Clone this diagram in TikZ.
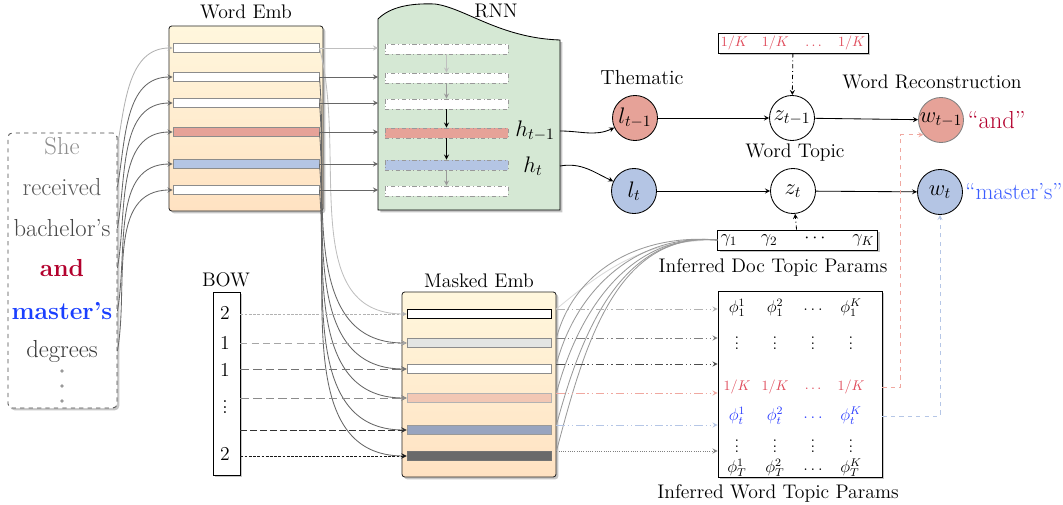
\RequirePackage{fix-cm}
\documentclass[tikz,border=0pt]{standalone}
\usetikzlibrary{positioning,shadows}

\definecolor{embtop}{HTML}{FFF7DD}
\definecolor{embbot}{HTML}{FFE2C2}
\definecolor{rnngreen}{HTML}{D5E8D4}
\definecolor{tred}{HTML}{E6A298}
\definecolor{tblue}{HTML}{B4C5E4}
\definecolor{andred}{HTML}{B3002D}
\definecolor{masterblue}{HTML}{1A3FFF}
\definecolor{quoteblue}{HTML}{3A5CFF}
\definecolor{kred}{HTML}{E04A5A}
\definecolor{phiblue}{HTML}{2B3DFF}
\definecolor{mpeach}{HTML}{F2C7B4}
\definecolor{mslate}{HTML}{98A4BF}
\definecolor{mdark}{HTML}{6A6A6A}
\definecolor{mlight}{HTML}{E3E5E3}
\definecolor{dashred}{HTML}{F0A8A0}
\definecolor{dashblue}{HTML}{B5C6E6}

\tikzset{
  lbl/.style={font=\fontsize{14}{16}\selectfont},
  word/.style={font=\fontsize{17.5}{20}\selectfont},
  shad/.style={drop shadow={shadow xshift=1.6pt, shadow yshift=-1.6pt, opacity=0.45}},
  embbox/.style={draw=black!85, rounded corners=2pt, top color=embtop, bottom color=embbot,
    minimum width=3.85cm, minimum height=4.625cm, shad},
  ebar/.style={draw=black!45, minimum width=3.65cm, minimum height=0.24cm, inner sep=0pt},
  mbar/.style={draw=black!45, minimum width=3.6cm, minimum height=0.23cm, inner sep=0pt},
  rbar/.style={draw=black!40, dash dot, minimum width=3.075cm, minimum height=0.25cm, inner sep=0pt},
  var/.style={circle, draw, minimum size=1.125cm, inner sep=0pt, font=\fontsize{16}{18}\selectfont},
  pbox/.style={draw, fill=white, shad, inner sep=2pt, minimum height=0.5cm},
  ent/.style={font=\fontsize{12}{14}\selectfont, inner sep=0pt},
  conn/.style={->, black!60},
  dashdotdot/.style={dash pattern=on 6pt off 2pt on 1pt off 2pt on 1pt off 2pt},
}

\begin{document}
\begin{tikzpicture}[x=0.025cm, y=-0.025cm, >=stealth, line width=0.6pt]
\useasboundingbox (0,0) rectangle (1063,505);

% sentence
\node[draw=black!70, dashed, rounded corners=3pt, fill=white, shad,
  minimum width=2.725cm, minimum height=6.875cm] (sent) at (62.5,270.5) {};
\node[word, text=black!45] (s1) at (62,146) {She};
\node[word, text=black!65] (s2) at (62,187) {received};
\node[word, text=black!72] (s3) at (62,228) {bachelor’s};
\node[word, text=andred] (s4) at (62,268) {\bfseries and};
\node[word, text=masterblue] (s5) at (62,311) {\bfseries master’s};
\node[word, text=black!78] (s6) at (62,351) {degrees};
\foreach \y in {371,386,401} \fill[black!40] (62,\y) circle (1.3pt);

% word embedding
\node[embbox] (wemb) at (246,118.5) {};
\node[lbl] (wembT) at (246,12) {Word Emb};
\foreach \i/\y/\c in {1/48/white, 2/77/white, 3/103/white, 4/132/tred, 5/164/tblue, 6/190/white}
  \node[ebar, fill=\c] (we\i) at (246,\y) {};

% rnn
\draw[fill=rnngreen, shad] (378,210) -- (378,19) .. controls (390,7) and (410,3) .. (435,4)
  .. controls (465,8) and (500,38) .. (560,40) -- (560,210) -- cycle;
\coordinate (rnnL) at (378,100);
\coordinate (rnnR) at (560,100);
\node[lbl] (rnnT) at (496,11) {RNN};
\foreach \i/\y/\c in {1/49/white, 2/78/white, 3/104/white, 4/133/tred, 5/165/tblue, 6/191/white}
  \node[rbar, fill=\c] (rb\i) at (446.5,\y) {};
\draw[->, black!25] (rb1.south) -- (rb2.north);
\draw[->, black!40] (rb2.south) -- (rb3.north);
\draw[->, black] (rb3.south) -- (rb4.north);
\draw[->, black] (rb4.south) -- (rb5.north);
\draw[->, black!40] (rb5.south) -- (rb6.north);
\node[font=\fontsize{16}{18}\selectfont] (hm1) at (535,131) {$h_{t-1}$};
\node[font=\fontsize{16}{18}\selectfont] (h0) at (533,166) {$h_t$};

% graphical model
\node[var, fill=tred] (lm1) at (635,118) {$l_{t-1}$};
\node[var, fill=tblue] (l0) at (634,191) {$l_t$};
\node[var] (zm1) at (792,118) {$z_{t-1}$};
\node[var] (z0) at (793,191) {$z_t$};
\node[var, fill=tred, draw=black!50] (wm1) at (941,120) {$w_{t-1}$};
\node[var, fill=tblue] (w0) at (940,192) {$w_t$};
\node[lbl, font=\fontsize{14.5}{16}\selectfont] (themT) at (642,78) {Thematic};
\node[lbl] (topT) at (795,153) {Word Topic};
\node[lbl] (recT) at (932,82) {Word Reconstruction};
\node[font=\fontsize{17.5}{20}\selectfont, text=andred, right=0pt of wm1, inner sep=2.5pt] (andT) {“and”};
\node[font=\fontsize{16.5}{20}\selectfont, text=quoteblue, right=0pt of w0, inner sep=1.5pt] (mastT) {“master’s”};

\node[pbox, minimum width=3.75cm, text=kred] (kbox) at (793,43)
  {$1/K\quad 1/K\quad \ldots\quad 1/K$};
\node[pbox, minimum width=3.775cm, font=\fontsize{13}{15}\selectfont] (gbox) at (797.5,240)
  {$\gamma_1\hspace{1.3em}\gamma_2\hspace{1.3em}\cdots\hspace{1.3em}\gamma_K$};
\node[lbl] (gT) at (773,267) {Inferred Doc Topic Params};

% word topic params
\node[pbox, minimum width=4.1cm, minimum height=4.65cm] (phi) at (800,384) {};
\node[lbl] (phiT) at (778,493) {Inferred Word Topic Params};
\foreach \c/\cx/\k in {1/737/1, 2/775/2, 4/851/K} {
  \node[ent] (pa\c) at (\cx,308) {$\phi_1^{\k}$};
  \node[ent] (pb\c) at (\cx,339) {$\vdots$};
  \node[ent, font=\normalsize, text=kred] (pc\c) at (\cx,387) {$1/K$};
  \node[ent, text=phiblue] (pd\c) at (\cx,416) {$\phi_t^{\k}$};
  \node[ent] (pe\c) at (\cx,442) {$\vdots$};
  \node[ent] (pf\c) at (\cx,468) {$\phi_T^{\k}$};
}
\node[ent] (pa3) at (813,310) {$\ldots$};
\node[ent] (pb3) at (813,339) {$\vdots$};
\node[ent, font=\normalsize, text=kred] (pc3) at (813,389) {$\ldots$};
\node[ent, text=phiblue] (pd3) at (813,418) {$\ldots$};
\node[ent] (pe3) at (813,442) {$\vdots$};
\node[ent] (pf3) at (813,470) {$\ldots$};

% bag of words
\node[draw, fill=white, shad, minimum width=0.675cm, minimum height=4.575cm] (bow) at (226.5,383.5) {};
\node[lbl] (bowT) at (226,280) {BOW};
\node[lbl] (b1) at (225,313) {2};
\node[lbl] (b2) at (225,343) {1};
\node[lbl] (b3) at (225,370) {1};
\node[lbl] (b4) at (225,403) {$\vdots$};
\node[lbl] (b6) at (225,454) {2};

% masked embedding
\node[embbox] (memb) at (479,384.5) {};
\node[lbl] (membT) at (479,281) {Masked Emb};
\foreach \i/\y/\c/\d in {1/314/white/black, 2/343/mlight/black!45, 3/369/white/black!45,
    4/398/mpeach/black!30, 5/430/mslate/black!40, 6/456/mdark/black!55}
  \node[mbar, fill=\c, draw=\d] (mb\i) at (479,\y) {};

% sentence to word embedding
\draw[->, black!30] (sent.east |- s1) to[out=80, in=180] (we1.west);
\foreach \i in {2,...,6}
  \draw[conn] (sent.east |- s\i) to[out=80, in=180] (we\i.west);

% word embedding to rnn and masked embedding
\draw[->, black!25] (we1.east) -- (we1.east -| rnnL);
\draw[->, black!25] (we1.east) to[out=-75, in=180] (mb1.west);
\foreach \i in {2,...,6} {
  \draw[conn] (we\i.east) -- (we\i.east -| rnnL);
  \draw[conn] (we\i.east) to[out=-85, in=180] (mb\i.west);
}

% rnn to thematic
\draw[->, black] (rnnR |- hm1) to[out=0, in=205] (lm1);
\draw[->, black] (rnnR |- h0) to[out=10, in=155] (l0);
\draw[->] (lm1) -- (zm1);
\draw[->] (zm1) -- (wm1);
\draw[->] (l0) -- (z0);
\draw[->] (z0) -- (w0);
\draw[->, dash dot] (kbox) -- (zm1);
\draw[->, dash dot] (gbox) -- (z0);

% bow to masked embedding
\draw[->, black!30, dash pattern=on 2pt off 1pt] (bow.east |- mb1) -- (mb1.west);
\draw[->, black!35, dash pattern=on 5pt off 3pt] (bow.east |- mb2) -- (mb2.west);
\draw[->, black!55, dash pattern=on 6pt off 3pt] (bow.east |- mb3) -- (mb3.west);
\draw[->, black!45, dash pattern=on 6pt off 3pt] (bow.east |- mb4) -- (mb4.west);
\draw[->, black!80, dash pattern=on 5pt off 2pt] (bow.east |- mb5) -- (mb5.west);
\draw[->, black!90, dash pattern=on 2pt off 1pt] (bow.east |- mb6) -- (mb6.west);

% masked embedding to params
\draw[black!15] (memb.east |- mb1.north east) to[out=40, in=180] (gbox.west);
\foreach \i in {2,...,6}
  \draw[black!40] (memb.east |- mb\i.north east) to[out=75, in=175] (gbox.west);
\draw[->, black!30, dashdotdot] (memb.east |- mb1.north east) -- (phi.west |- mb1.north east);
\draw[->, black!50, dashdotdot] (memb.east |- mb2.north east) -- (phi.west |- mb2.north east);
\draw[->, black!70, dashdotdot] (memb.east |- mb3.north east) -- (phi.west |- mb3.north east);
\draw[->, dashred, dashdotdot] (memb.east |- mb4.north east) -- (phi.west |- mb4.north east);
\draw[->, dashblue, dashdotdot] (memb.east |- mb5.north east) -- (phi.west |- mb5.north east);
\draw[->, black!50, densely dotted] (memb.east |- mb6.north east) -- (phi.west |- mb6.north east);

% params to reconstruction
\draw[->, dashred, dashed] (phi.east |- pc4) -- ++(18,0) |- (wm1.220);
\draw[->, dashblue, dashed] (phi.east |- pd4) -| (w0.south);
\end{tikzpicture}
\end{document}
